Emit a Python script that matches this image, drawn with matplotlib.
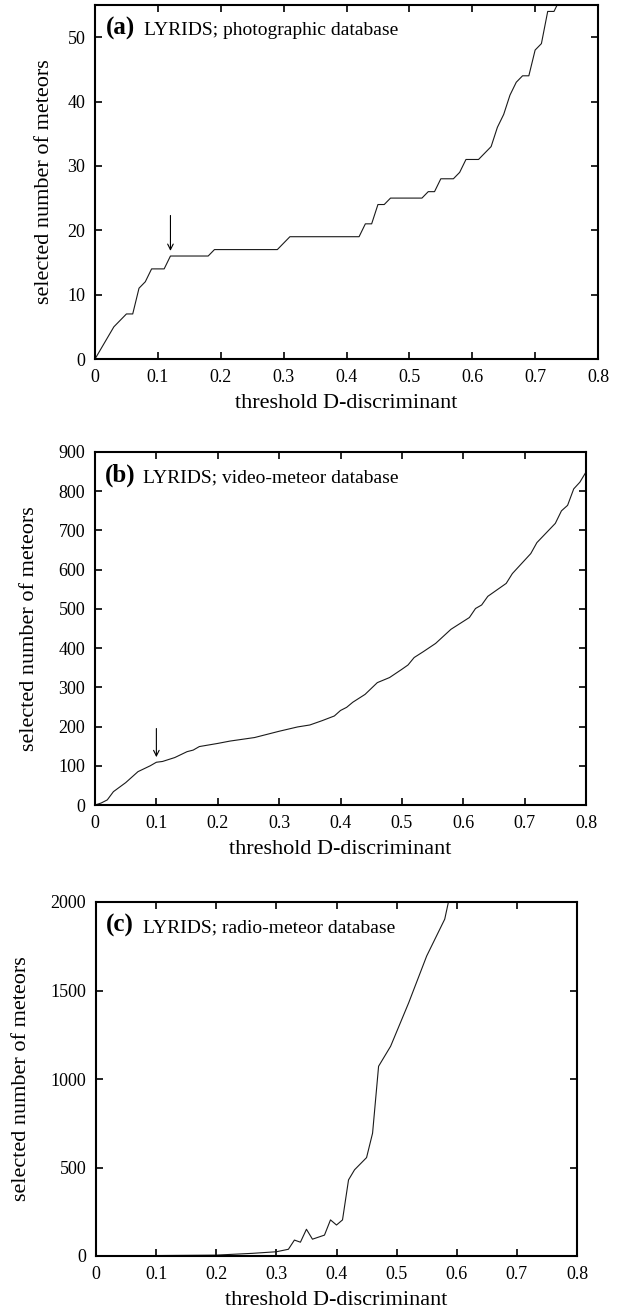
import numpy as np
import matplotlib.pyplot as plt

plt.rcParams['font.family'] = ['Liberation Serif', 'DejaVu Serif']

# (a) photographic database
d_a = [0, 0.03, 0.05, 0.06, 0.07, 0.08, 0.09, 0.11, 0.12, 0.18, 0.19, 0.29, 0.31,
       0.42, 0.43, 0.44, 0.45, 0.46, 0.47, 0.52, 0.53, 0.54, 0.55, 0.57, 0.58, 0.59,
       0.61, 0.62, 0.63, 0.64, 0.65, 0.66, 0.67, 0.68, 0.69, 0.70, 0.71, 0.72, 0.73, 0.74]
n_a = [0, 5, 7, 7, 11, 12, 14, 14, 16, 16, 17, 17, 19,
       19, 21, 21, 24, 24, 25, 25, 26, 26, 28, 28, 29, 31,
       31, 32, 33, 36, 38, 41, 43, 44, 44, 48, 49, 54, 54, 56]

# (b) video-meteor database
d_b = [0, 0.01, 0.02, 0.03, 0.05, 0.07, 0.09, 0.10, 0.11, 0.13, 0.15, 0.16, 0.17,
       0.20, 0.22, 0.26, 0.28, 0.30, 0.33, 0.35, 0.37, 0.39, 0.40, 0.41, 0.42, 0.44,
       0.46, 0.48, 0.50, 0.51, 0.52, 0.535, 0.555, 0.58, 0.595, 0.61, 0.62, 0.63, 0.64,
       0.67, 0.68, 0.71, 0.72, 0.75, 0.76, 0.77, 0.78, 0.79, 0.80]
n_b = [0, 5, 13, 34, 57, 85, 100, 109, 111, 121, 136, 140, 149,
       157, 163, 172, 180, 188, 199, 204, 215, 227, 241, 249, 262, 282,
       312, 325, 346, 357, 376, 391, 412, 448, 463, 478, 501, 510, 532,
       565, 590, 641, 669, 718, 750, 764, 806, 823, 849]

# (c) radio-meteor database
d_c = [0, 0.20, 0.26, 0.30, 0.32, 0.33, 0.34, 0.35, 0.36, 0.38, 0.39, 0.40, 0.41,
       0.42, 0.43, 0.45, 0.46, 0.47, 0.49, 0.52, 0.55, 0.58, 0.59]
n_c = [0, 5, 15, 24, 38, 90, 78, 151, 95, 118, 204, 175, 204,
       430, 487, 556, 694, 1072, 1185, 1430, 1695, 1903, 2060]

panels = [
    dict(d=d_a, n=n_a, tag='(a)', txt='LYRIDS; photographic database',
         ylim=(0, 55), yticks=[0, 10, 20, 30, 40, 50], arrow=(0.12, 22.3, 16.8),
         box=(95, 5, 598, 359), ylab_x=54),
    dict(d=d_b, n=n_b, tag='(b)', txt='LYRIDS; video-meteor database',
         ylim=(0, 900), yticks=np.arange(0, 901, 100), arrow=(0.10, 195, 122),
         box=(95, 452, 586, 805), ylab_x=39),
    dict(d=d_c, n=n_c, tag='(c)', txt='LYRIDS; radio-meteor database',
         ylim=(0, 2000), yticks=[0, 500, 1000, 1500, 2000], arrow=None,
         box=(96, 902, 577, 1256), ylab_x=31),
]

W, H = 617, 1314
fig = plt.figure(figsize=(W / 100, H / 100), dpi=100)

for p in panels:
    x0, y0, x1, y1 = p['box']
    ax = fig.add_axes([x0 / W, 1 - y1 / H, (x1 - x0) / W, (y1 - y0) / H])
    ax.plot(p['d'], p['n'], color='#1a1a1a', lw=0.8)
    ax.set_xlim(0, 0.8)
    ax.set_ylim(*p['ylim'])
    ax.set_xticks(np.arange(0, 0.81, 0.1))
    ax.set_xticklabels(['0'] + ['%.1f' % v for v in np.arange(0.1, 0.81, 0.1)])
    ax.set_yticks(p['yticks'])
    ax.tick_params(direction='in', top=True, right=True, length=5, width=1.2,
                   labelsize=13, pad=7)
    for s in ax.spines.values():
        s.set_linewidth(1.5)
    ax.set_xlabel('threshold D-discriminant', fontsize=16, labelpad=6)
    ax.set_ylabel('selected number of meteors', fontsize=16)
    ax.yaxis.set_label_coords((p['ylab_x'] - x0) / (x1 - x0), 0.5)

    # panel tag and title inside the top-left corner
    ax.text(0.021, 1 - 30 / (y1 - y0), p['tag'], transform=ax.transAxes,
            fontsize=18, fontweight='bold', ha='left', va='baseline')
    ax.text(0.098, 1 - 30 / (y1 - y0), p['txt'], transform=ax.transAxes,
            fontsize=14, ha='left', va='baseline')

    if p['arrow'] is not None:
        xa, ytop, ytip = p['arrow']
        ax.annotate('', xy=(xa, ytip), xytext=(xa, ytop),
                    arrowprops=dict(arrowstyle='->', lw=0.8, color='black',
                                    shrinkA=0, shrinkB=0))

fig.savefig('out.png', dpi=100)
